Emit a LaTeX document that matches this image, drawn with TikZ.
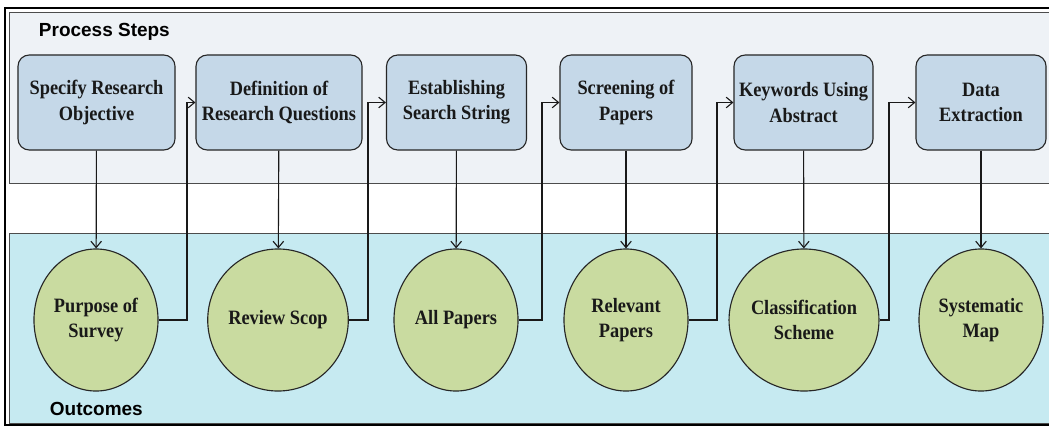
\documentclass[tikz,border=0pt]{standalone}
\usepackage{fontspec}
\setmainfont{Liberation Serif}
\setsansfont{Liberation Sans}
\newfontfamily\narrowserif{Liberation Serif}[FakeStretch=0.9]
\usepackage{tikz}
\usetikzlibrary{arrows.meta,positioning,calc,shapes.geometric}
\definecolor{stepfill}{RGB}{197,216,232}
\definecolor{outfill}{RGB}{201,219,160}
\definecolor{toppanel}{RGB}{238,242,246}
\definecolor{lowpanel}{RGB}{198,234,241}
\newcommand{\stepfont}{\narrowserif\fontsize{14.5}{18}\selectfont\bfseries}
\newcommand{\panelfont}{\fontsize{13.5}{15}\selectfont\sffamily\bfseries}

\begin{document}
\begin{tikzpicture}[x=0.025cm, y=-0.025cm,
    stepbox/.style={draw=black!85, fill=stepfill, rounded corners=8pt, line width=0.8pt,
        minimum height=2.375cm, inner sep=2pt, align=center, font=\stepfont, text=black!90},
    outcome/.style={ellipse, draw=black!85, fill=outfill, line width=0.8pt,
        minimum width=3.1cm, minimum height=3.55cm, inner sep=0pt, align=center, font=\stepfont, text=black!90},
    link/.style={-{Straight Barb[length=4.5pt,width=7.5pt]}, line width=0.8pt, black!90}]
    \useasboundingbox (0,0) rectangle (1049,426);

    % panels
    \draw[black!70, fill=toppanel, line width=0.6pt] (9,12) rectangle (1060,183);
    \draw[black!70, fill=lowpanel, line width=0.6pt] (9,233) rectangle (1060,423);
    \draw[black, line width=1.4pt] (5,8) rectangle (1060,425);
    \node[font=\panelfont, anchor=west] (steps) at (34,32) {Process Steps};
    \node[font=\panelfont, anchor=west] (outcomes) at (45,409) {Outcomes};

    % process steps
    \node[stepbox, minimum width=3.925cm] (s1) at (96.5,102.5) {Specify Research\\Objective};
    \node[stepbox, minimum width=4.15cm] (s2) at (279,102.5) {Definition of\\Research Questions};
    \node[stepbox, minimum width=3.5cm] (s3) at (456.5,102.5) {Establishing\\Search String};
    \node[stepbox, minimum width=3.3cm] (s4) at (626,102.5) {Screening of\\Papers};
    \node[stepbox, minimum width=3.475cm] (s5) at (803.5,102.5) {Keywords Using\\Abstract};
    \node[stepbox, minimum width=3.25cm] (s6) at (981,102.5) {Data\\Extraction};

    % outcomes
    \node[outcome] (o1) at (96,320) {Purpose of\\Survey};
    \node[outcome] (o2) at (278,320) {Review Scop};
    \node[outcome] (o3) at (456,320) {All Papers};
    \node[outcome] (o4) at (626,320) {Relevant\\Papers};
    \node[outcome] (o5) at (804,320) {Classification\\Scheme};
    \node[outcome] (o6) at (981,320) {Systematic\\Map};

    % knees of the return lines
    \coordinate (k1) at (187,102.5);
    \coordinate (k2) at (368,102.5);
    \coordinate (k3) at (542,102.5);
    \coordinate (k4) at (717,102.5);
    \coordinate (k5) at (889,102.5);

    \draw[link] (s1) -- (o1);
    \draw[link] (s2) -- (o2);
    \draw[link] (s3) -- (o3);
    \draw[link] (s4) -- (o4);
    \draw[link] (s5) -- (o5);
    \draw[link] (s6) -- (o6);

    \draw[link] (o1.east) -| (k1) -- (s2.west);
    \draw[link] (o2.east) -| (k2) -- (s3.west);
    \draw[link] (o3.east) -| (k3) -- (s4.west);
    \draw[link] (o4.east) -| (k4) -- (s5.west);
    \draw[link] (o5.east) -| (k5) -- (s6.west);
\end{tikzpicture}
\end{document}
